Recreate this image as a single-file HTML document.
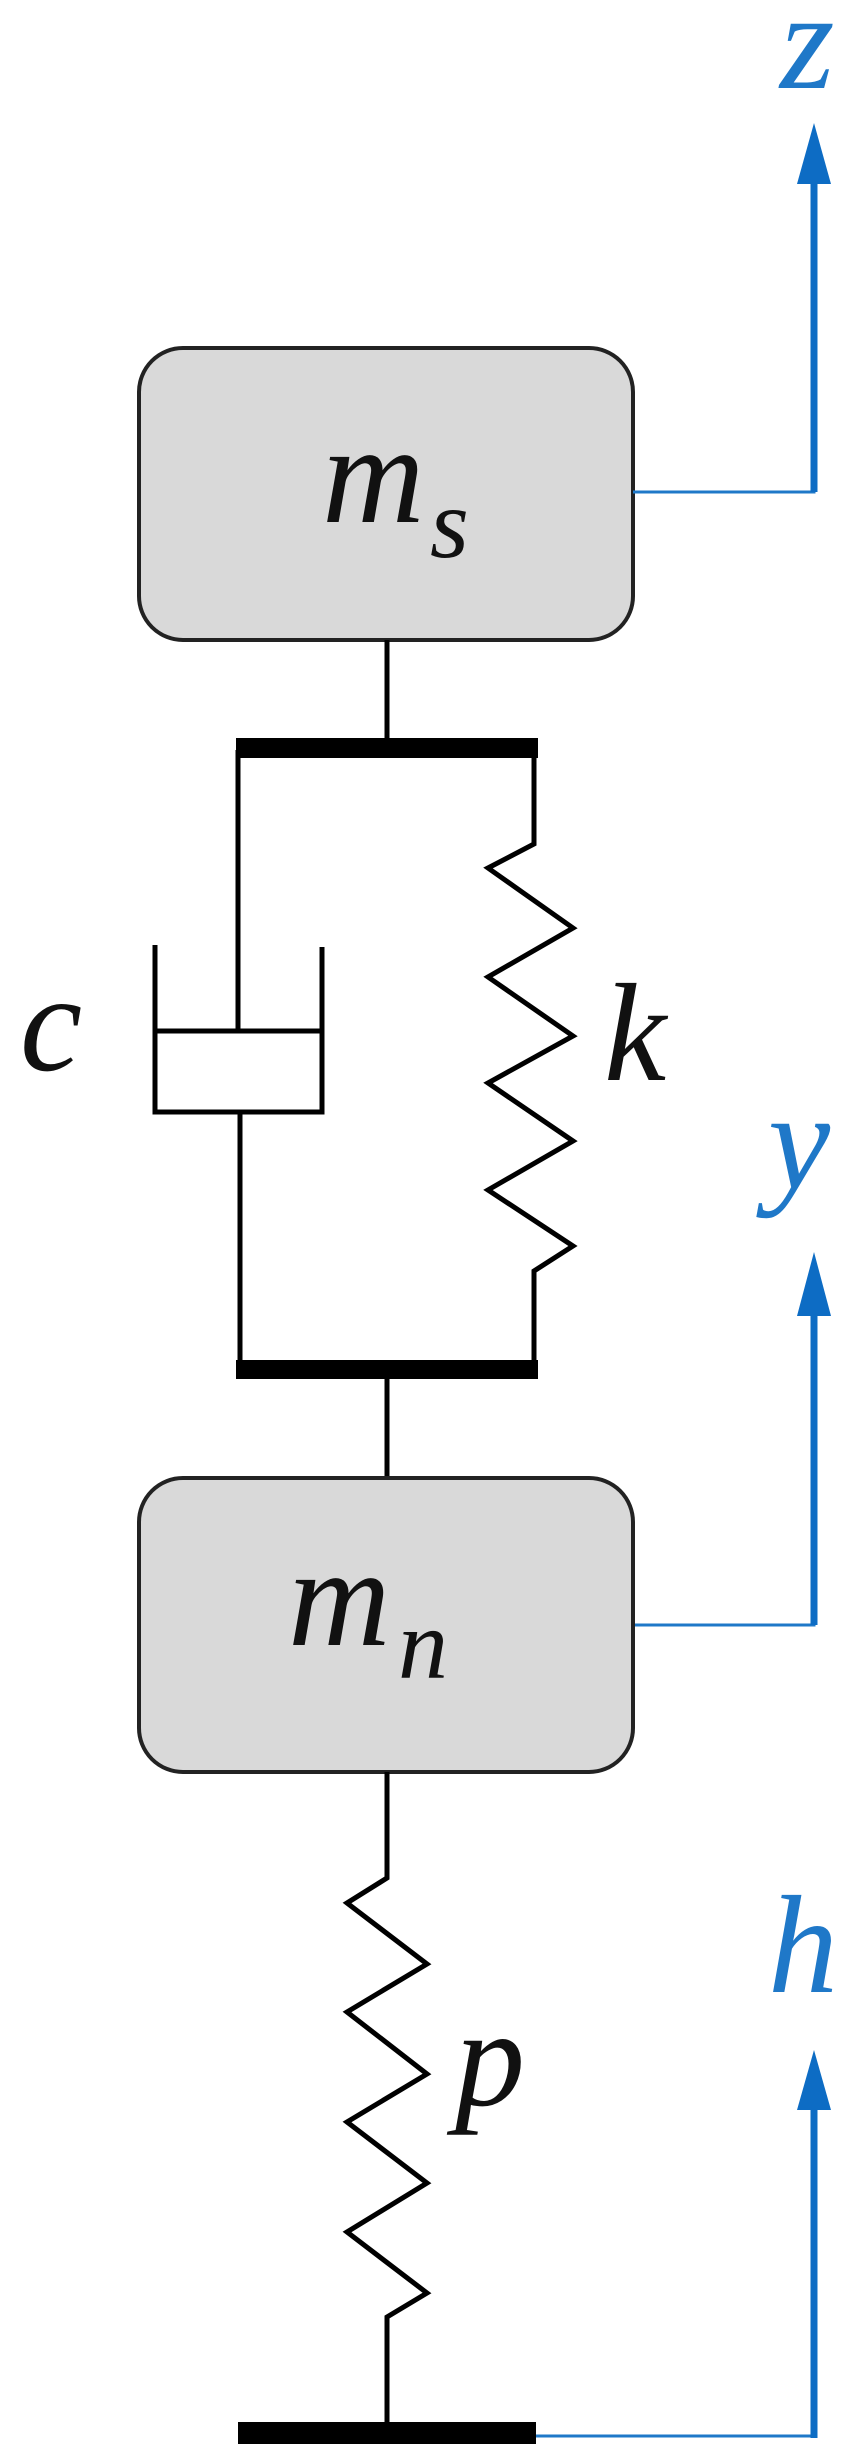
<!DOCTYPE html>
<html><head><meta charset="utf-8"><style>
html,body{margin:0;padding:0;background:#fff;}
svg{display:block;}
text{font-family:"Liberation Serif",serif;font-style:italic;}
</style></head><body>
<svg width="864" height="2448" viewBox="0 0 864 2448" xmlns="http://www.w3.org/2000/svg">
<!-- top mass -->
<rect x="139" y="348" width="494" height="292" rx="44" ry="44" fill="#d9d9d9" stroke="#222" stroke-width="4"/>
<text x="322" y="522" font-size="142" fill="#111">m</text>
<text x="430" y="557" font-size="100" fill="#111">s</text>
<!-- z arrow -->
<polyline points="633,492 814,492 814,180" fill="none" stroke="#1f78c8" stroke-width="3"/>
<line x1="814" y1="492" x2="814" y2="180" stroke="#0d6cc4" stroke-width="7"/>
<polygon points="814,123 797,184 831,184" fill="#0d6cc4"/>
<text x="780" y="88" font-size="140" fill="#1f78c8">z</text>
<!-- connector -->
<line x1="387" y1="640" x2="387" y2="740" stroke="#000" stroke-width="5"/>
<rect x="236" y="738" width="302" height="20" fill="#000"/>
<!-- damper -->
<line x1="238" y1="750" x2="238" y2="1031" stroke="#000" stroke-width="5"/>
<polyline points="155,945 155,1112 322,1112 322,947" fill="none" stroke="#000" stroke-width="5"/>
<line x1="155" y1="1031" x2="322" y2="1031" stroke="#000" stroke-width="5"/>
<line x1="240" y1="1112" x2="240" y2="1365" stroke="#000" stroke-width="5"/>
<text x="20" y="1070" font-size="140" fill="#111">c</text>
<!-- k spring -->
<polyline points="534,750 534,844 488,868 573,928 488,977 573,1036 488,1083 573,1141 488,1190 573,1246 534,1271 534,1365" fill="none" stroke="#000" stroke-width="5" stroke-linejoin="miter"/>
<text x="604" y="1080" font-size="140" fill="#111">k</text>
<rect x="236" y="1360" width="302" height="19" fill="#000"/>
<line x1="387" y1="1378" x2="387" y2="1480" stroke="#000" stroke-width="5"/>
<!-- y arrow -->
<text x="768" y="1188" font-size="140" fill="#1f78c8">y</text>
<polyline points="633,1625 814,1625 814,1310" fill="none" stroke="#1f78c8" stroke-width="3"/>
<line x1="814" y1="1625" x2="814" y2="1310" stroke="#0d6cc4" stroke-width="7"/>
<polygon points="814,1252 797,1316 831,1316" fill="#0d6cc4"/>
<!-- bottom mass -->
<rect x="139" y="1478" width="494" height="294" rx="44" ry="44" fill="#d9d9d9" stroke="#222" stroke-width="4"/>
<text x="288" y="1645" font-size="142" fill="#111">m</text>
<text x="398" y="1678" font-size="100" fill="#111">n</text>
<!-- p spring -->
<polyline points="387,1772 387,1878 347,1903 427,1964 347,2012 427,2074 347,2122 427,2183 347,2232 427,2293 387,2317 387,2425" fill="none" stroke="#000" stroke-width="5"/>
<text x="455" y="2105" font-size="140" fill="#111">p</text>
<rect x="238" y="2422" width="298" height="22" fill="#000"/>
<!-- h arrow -->
<text x="768" y="1992" font-size="140" fill="#1f78c8">h</text>
<polyline points="536,2436 814,2436 814,2100" fill="none" stroke="#1f78c8" stroke-width="3"/>
<line x1="814" y1="2438" x2="814" y2="2100" stroke="#0d6cc4" stroke-width="7"/>
<polygon points="814,2050 797,2110 831,2110" fill="#0d6cc4"/>
</svg>
</body></html>
